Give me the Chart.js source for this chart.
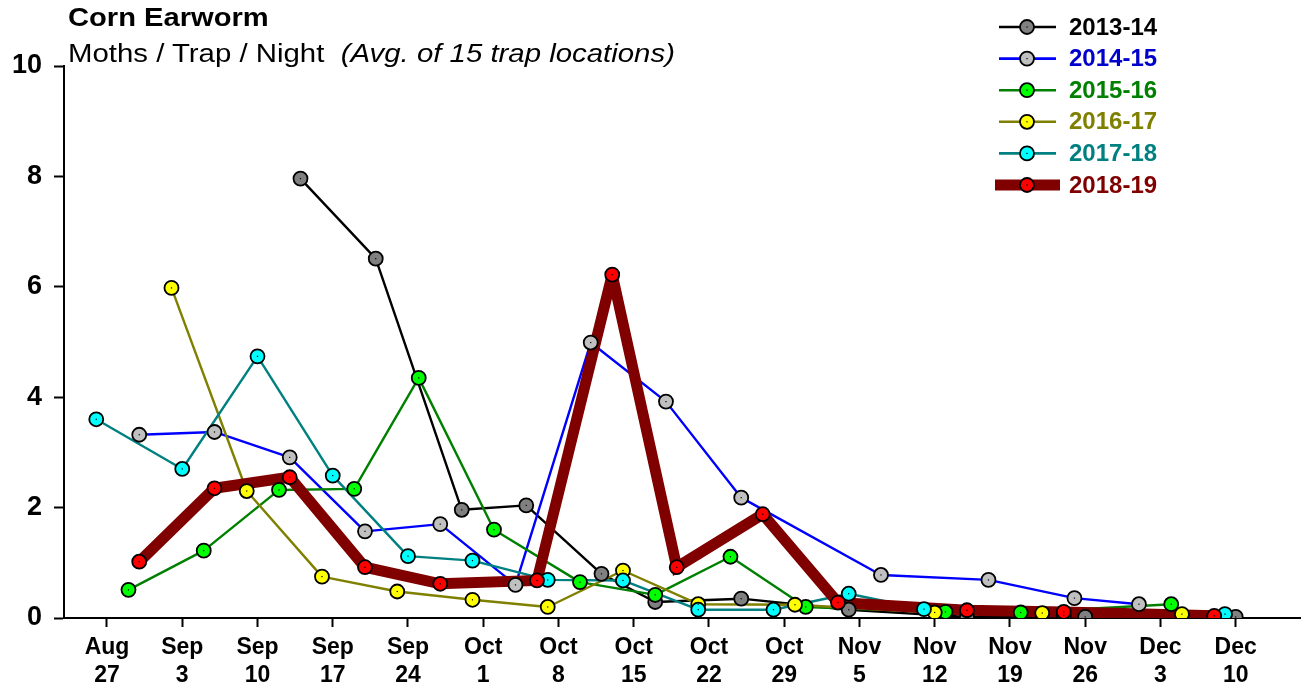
<!DOCTYPE html>
<html>
<head>
<meta charset="utf-8">
<title>Corn Earworm</title>
<script src="https://cdn.jsdelivr.net/npm/chart.js@4.4.1/dist/chart.umd.min.js"></script>
<style>
  body { margin: 0; background: #fff; }
  #wrap { position: relative; width: 1309px; height: 687px; }
  .txt { position: absolute; font-family: Arial, "Liberation Sans", sans-serif; white-space: nowrap; line-height: 1; color: #000; transform-origin: 0 0; }
</style>
</head>
<body>
<div id="wrap">
  <canvas id="earworm" width="1309" height="687"></canvas>
  <div class="txt" style="left:68px;top:4px;font-size:26px;font-weight:bold;transform:scaleX(1.12);">Corn Earworm</div>
  <div class="txt" style="left:68px;top:40px;font-size:26px;transform:scaleX(1.13);">Moths / Trap / Night&nbsp; <i>(Avg. of 15 trap locations)</i></div>
</div>
<script>
// days are counted from Aug 27
var tickDays = [0, 7, 14, 21, 28, 35, 42, 49, 56, 63, 70, 77, 84, 91, 98, 105];
var tickLabels = [['Aug','27'],['Sep','3'],['Sep','10'],['Sep','17'],['Sep','24'],['Oct','1'],['Oct','8'],
                  ['Oct','15'],['Oct','22'],['Oct','29'],['Nov','5'],['Nov','12'],['Nov','19'],['Nov','26'],
                  ['Dec','3'],['Dec','10']];

var seasons = ['2013-14', '2014-15', '2015-16', '2016-17', '2017-18', '2018-19'];

var days1314 = [18, 25, 33, 39, 46, 51, 59, 69, 80, 91, 105];
var vals1314 = [7.96, 6.51, 1.96, 2.04, 0.80, 0.29, 0.35, 0.15, 0.02, 0.02, 0.02];

var days1415 = [3, 10, 17, 24, 31, 38, 45, 52, 59, 72, 82, 90, 96];
var vals1415 = [3.32, 3.37, 2.91, 1.57, 1.70, 0.60, 4.99, 3.92, 2.18, 0.78, 0.69, 0.36, 0.25];

var days1516 = [2, 9, 16, 23, 29, 36, 44, 51, 58, 65, 78, 85, 99];
var vals1516 = [0.51, 1.22, 2.32, 2.34, 4.35, 1.60, 0.65, 0.42, 1.11, 0.20, 0.11, 0.10, 0.25];

var days1617 = [6, 13, 20, 27, 34, 41, 48, 55, 64, 77, 87, 100];
var vals1617 = [5.98, 2.30, 0.75, 0.48, 0.33, 0.20, 0.86, 0.25, 0.24, 0.10, 0.09, 0.07];

var days1718 = [-1, 7, 14, 21, 28, 34, 41, 48, 55, 62, 69, 76, 89, 104];
var vals1718 = [3.60, 2.70, 4.74, 2.58, 1.12, 1.04, 0.69, 0.68, 0.15, 0.15, 0.44, 0.16, 0.05, 0.07];

var days1819 = [3, 10, 17, 24, 31, 40, 47, 53, 61, 68, 80, 89, 103];
var vals1819 = [1.02, 2.35, 2.55, 0.92, 0.62, 0.68, 6.22, 0.92, 1.88, 0.28, 0.14, 0.11, 0.04];

var allDays = [days1314, days1415, days1516, days1617, days1718, days1819];
var allVals = [vals1314, vals1415, vals1516, vals1617, vals1718, vals1819];

// styles
var lineColors = ['#000000', '#0000ff', '#008000', '#808000', '#008080', '#800000'];
var markColors = ['#808080', '#c0c0c0', '#00ff00', '#ffff00', '#00ffff', '#ff0000'];
var textColors = ['#000000', '#0000cc', '#008000', '#808000', '#008080', '#800000'];
var lineWidths = [2.4, 2.4, 2.4, 2.4, 2.4, 11];

function pairs(d, v) {
    return d.map(function (x, i) { return { x: x, y: v[i] }; });
}

var datasets = [];
// lines first (drawn underneath), the thick one on top of the thin ones
seasons.forEach(function (s, i) {
    datasets.push({
        label: s + ' line',
        data: pairs(allDays[i], allVals[i]),
        borderColor: lineColors[i],
        borderWidth: lineWidths[i],
        borderJoinStyle: i === 5 ? 'miter' : 'round',
        pointRadius: 0,
        fill: false,
        tension: 0,
        order: i === 5 ? 10 : 20 - i
    });
});
// markers over all lines
seasons.forEach(function (s, i) {
    datasets.push({
        label: s,
        data: pairs(allDays[i], allVals[i]),
        showLine: false,
        pointRadius: 7,
        pointBackgroundColor: markColors[i],
        pointBorderColor: '#000',
        pointBorderWidth: 1.8,
        order: 6 - i
    });
});

var centerDots = {
    id: 'centerDots',
    beforeDatasetsDraw: function (chart) {
        chart.ctx.miterLimit = 2.2;
    },
    afterDatasetsDraw: function (chart) {
        var ctx = chart.ctx;
        ctx.save();
        ctx.fillStyle = '#000';
        chart.data.datasets.forEach(function (ds, di) {
            if (ds.showLine !== false) return;
            chart.getDatasetMeta(di).data.forEach(function (pt) {
                ctx.fillRect(pt.x - 0.6, pt.y - 0.6, 1.2, 1.2);
            });
        });
        ctx.restore();
    }
};

var seasonLegend = {
    id: 'seasonLegend',
    afterDraw: function (chart) {
        var ctx = chart.ctx;
        ctx.save();
        seasons.forEach(function (s, i) {
            var y = 27 + i * 31.6;
            ctx.strokeStyle = lineColors[i];
            ctx.lineWidth = i === 5 ? 11 : 2.6;
            ctx.beginPath();
            if (i === 5) { ctx.moveTo(995, y); ctx.lineTo(1060, y); }
            else { ctx.moveTo(999, y); ctx.lineTo(1056, y); }
            ctx.stroke();
            ctx.beginPath();
            ctx.arc(1027, y, 7, 0, Math.PI * 2);
            ctx.fillStyle = markColors[i];
            ctx.fill();
            ctx.lineWidth = 1.8;
            ctx.strokeStyle = '#000';
            ctx.stroke();
            ctx.fillStyle = '#000';
            ctx.fillRect(1026.4, y - 0.6, 1.2, 1.2);
            ctx.font = 'bold 24px Arial, "Liberation Sans"';
            ctx.textBaseline = 'middle';
            ctx.textAlign = 'left';
            ctx.fillStyle = textColors[i];
            ctx.fillText(s, 1069, y + 1);
        });
        ctx.restore();
    }
};

var ctx = document.getElementById('earworm').getContext('2d');
var earwormChart = new Chart(ctx, {
    type: 'line',
    data: { datasets: datasets },
    options: {
        responsive: false,
        animation: false,
        events: [],
        layout: { padding: { top: 66, right: 4, left: 0, bottom: 0 } },
        plugins: {
            legend: { display: false },
            tooltip: { enabled: false },
            title: { display: false }
        },
        scales: {
            x: {
                type: 'linear',
                min: -4,
                max: 111,
                afterBuildTicks: function (axis) {
                    axis.ticks = tickDays.map(function (d) { return { value: d }; });
                },
                afterFit: function (axis) { axis.height = 69; },
                grid: { drawOnChartArea: false, drawTicks: true, tickLength: 9, tickWidth: 2, tickColor: '#000' },
                border: { display: true, color: '#000', width: 2 },
                ticks: {
                    autoSkip: false,
                    maxRotation: 0,
                    padding: 7,
                    color: '#000',
                    font: { family: 'Arial, "Liberation Sans"', size: 23, weight: 'bold', lineHeight: 1.2 },
                    callback: function (value) {
                        var i = tickDays.indexOf(value);
                        return i >= 0 ? tickLabels[i] : '';
                    }
                }
            },
            y: {
                min: 0,
                max: 10,
                afterFit: function (axis) { axis.width = 64; },
                grid: { drawOnChartArea: false, drawTicks: true, tickLength: 10, tickWidth: 2, tickColor: '#000' },
                border: { display: true, color: '#000', width: 2 },
                ticks: {
                    stepSize: 2,
                    padding: 12,
                    color: '#000',
                    font: { family: 'Arial, "Liberation Sans"', size: 27, weight: 'bold' }
                }
            }
        }
    },
    plugins: [centerDots, seasonLegend]
});
</script>
</body>
</html>
